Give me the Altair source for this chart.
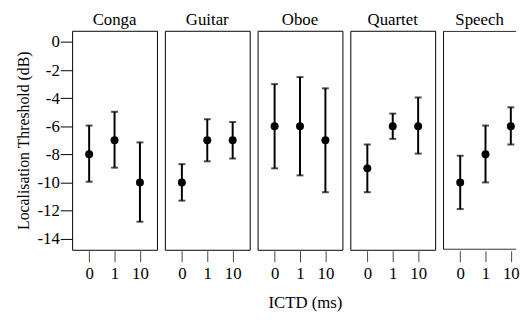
import altair as alt
import pandas as pd

instruments = ["Conga", "Guitar", "Oboe", "Quartet", "Speech"]
ictd = ["0", "1", "10"]
means = [-8.0, -7.0, -10.0,
         -10.0, -7.0, -7.0,
         -6.0, -6.0, -7.0,
         -9.0, -6.0, -6.0,
         -10.0, -8.0, -6.0]
lower = [-9.95, -8.95, -12.8,
         -11.3, -8.5, -8.3,
         -9.0, -9.5, -10.7,
         -10.7, -6.9, -7.95,
         -11.9, -10.0, -7.3]
upper = [-5.95, -4.97, -7.15,
         -8.7, -5.5, -5.7,
         -3.0, -2.5, -3.3,
         -7.3, -5.1, -3.95,
         -8.1, -5.95, -4.65]
y_ticks = [0, -2, -4, -6, -8, -10, -12, -14]

rows = []
k = 0
for inst in instruments:
    for t in ictd:
        rows.append({"instrument": inst, "ictd": t, "mean": means[k], "lo": lower[k], "hi": upper[k]})
        k += 1
df = pd.DataFrame(rows)

FONT = "'Liberation Serif', 'Times New Roman', Times, serif"
H = 222

yscale = alt.Scale(domain=[-14.8, 0.8], nice=False, zero=False)
yaxis = alt.Axis(
    title="Localisation Threshold (dB)", values=y_ticks, grid=False, domain=False,
    tickSize=12, tickColor="black", tickWidth=1, labelPadding=1,
    labelFont=FONT, labelFontSize=17, labelColor="black", labelExpr="'' + datum.value",
    titleFont=FONT, titleFontSize=16, titleFontWeight="normal", titleColor="black", titlePadding=6,
)


def xaxis(with_title):
    kw = dict(grid=False, domain=False, labelAngle=0,
              tickSize=11, tickColor="#444444", tickWidth=1, offset=1, labelPadding=4,
              labelFont=FONT, labelFontSize=17, labelColor="black")
    if with_title:
        kw.update(title="ICTD (ms)", titleFont=FONT, titleFontSize=17, titleFontWeight="normal",
                  titleColor="black", titlePadding=14, titleX=48, titleAlign="center")
    else:
        kw.update(title=None)
    return alt.Axis(**kw)


panels = []
for i, inst in enumerate(instruments):
    last = i == len(instruments) - 1
    w = 74 if last else 86
    if last:
        xs = alt.Scale(type="point", padding=0.4425, align=0.766)
    else:
        xs = alt.Scale(type="point", padding=0.67)
    ya = yaxis if i == 0 else None
    base = alt.Chart(df).transform_filter(alt.datum.instrument == inst).encode(
        x=alt.X("ictd:N", sort=ictd, scale=xs, axis=xaxis(inst == "Oboe"))
    )
    rule = base.mark_rule(strokeWidth=2, color="black").encode(
        y=alt.Y("lo:Q", scale=yscale, axis=ya), y2="hi:Q"
    )
    tlo = base.mark_tick(size=7, thickness=2, color="black").encode(
        y=alt.Y("lo:Q", scale=yscale, axis=ya)
    )
    thi = base.mark_tick(size=7, thickness=2, color="black").encode(
        y=alt.Y("hi:Q", scale=yscale, axis=ya)
    )
    pts = base.mark_circle(size=65, color="black", opacity=1).encode(
        y=alt.Y("mean:Q", scale=yscale, axis=ya)
    )
    layers = [rule, tlo, thi, pts]
    props = dict(width=w, height=H,
                 title=alt.TitleParams(inst, font=FONT, fontSize=17, fontWeight="normal",
                                       color="black", anchor="middle", frame="group", offset=2))
    if last:
        # panel runs off the right edge: frame open on the right (clipped)
        frame = alt.Chart(df).transform_filter(
            (alt.datum.instrument == inst) & (alt.datum.ictd == "0")
        ).mark_rect(filled=False, stroke="black", strokeWidth=1, clip=True).encode(
            x=alt.value(0.5), x2=alt.value(w + 3), y=alt.value(0.5), y2=alt.value(H - 0.5)
        )
        layers.append(frame)
        props["view"] = alt.ViewBackground(stroke="transparent")
    panels.append(alt.layer(*layers).properties(**props))

chart = alt.hconcat(*panels, spacing=6).properties(
    padding={"left": 6, "top": 0, "right": 0, "bottom": 0},
).configure(font=FONT).configure_view(stroke="black", strokeWidth=1)

chart.save("out.html", embed_options={"renderer": "svg", "actions": False})
